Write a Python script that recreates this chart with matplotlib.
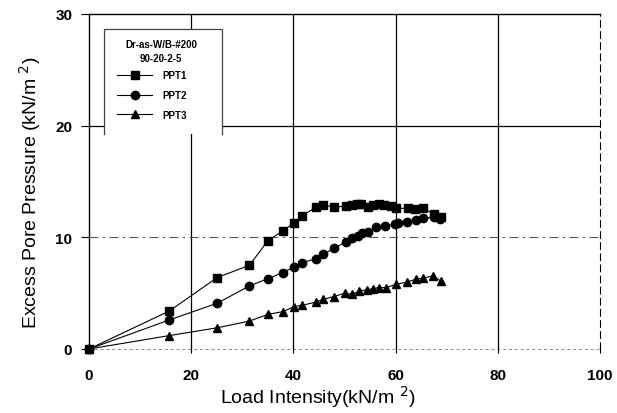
import matplotlib
matplotlib.use("Agg")
import matplotlib.pyplot as plt
from matplotlib.patches import Rectangle

plt.rcParams['font.family'] = ['Liberation Sans', 'DejaVu Sans']

ppt1_x = [0, 15.7, 25.1, 31.4, 35.0, 38.0, 40.1, 41.6, 44.4, 45.8, 48.0, 50.3, 51.4, 52.5, 53.2,
          54.6, 55.5, 56.7, 57.8, 59.0, 60.1, 62.4, 63.7, 65.4, 67.5, 68.8]
ppt1_y = [0, 3.4, 6.4, 7.5, 9.7, 10.6, 11.3, 11.9, 12.7, 12.9, 12.7, 12.8, 12.9, 13.0, 13.0,
          12.7, 12.9, 13.0, 12.9, 12.8, 12.6, 12.6, 12.5, 12.6, 12.1, 11.8]

ppt2_x = [0, 15.7, 25.1, 31.4, 35.0, 38.0, 40.1, 41.6, 44.4, 45.8, 48.0, 50.2, 51.5, 52.6, 53.5,
          54.6, 56.2, 58.0, 59.8, 60.5, 62.3, 63.9, 65.4, 67.5, 68.6]
ppt2_y = [0, 2.6, 4.1, 5.65, 6.3, 6.85, 7.35, 7.7, 8.1, 8.5, 9.0, 9.6, 9.95, 10.1, 10.35,
          10.5, 10.9, 11.0, 11.2, 11.3, 11.4, 11.55, 11.7, 11.8, 11.6]

ppt3_x = [0, 15.7, 25.1, 31.4, 35.0, 38.0, 40.1, 41.6, 44.4, 45.8, 48.0, 50.0, 51.5, 52.9, 54.4,
          55.5, 56.7, 58.2, 60.1, 62.3, 63.9, 65.4, 67.3, 68.8]
ppt3_y = [0, 1.2, 1.9, 2.5, 3.1, 3.35, 3.8, 3.9, 4.2, 4.45, 4.7, 5.0, 4.9, 5.2, 5.3,
          5.4, 5.5, 5.5, 5.8, 6.0, 6.25, 6.35, 6.55, 6.1]

x_ticks = [0, 20, 40, 60, 80, 100]
y_ticks = [0, 10, 20, 30]
legend_title = 'Dr-as-W/B-#200\n90-20-2-5'

fig = plt.figure(figsize=(6.17, 4.14), dpi=100)
ax = fig.add_axes([0.1443, 0.1546, 0.8282, 0.8092])

# grid lines
for xv in [20, 40, 60, 80]:
    ax.axvline(xv, color='black', lw=0.9, zorder=1)
ax.axhline(10, color='#555555', lw=0.8, ls=(0, (8, 4, 2, 4)), zorder=1)
ax.axhline(20, color='black', lw=0.9, zorder=1)

ax.plot(ppt1_x, ppt1_y, color='black', lw=0.8, marker='s', ms=6, label='PPT1', zorder=3, clip_on=False)
ax.plot(ppt2_x, ppt2_y, color='black', lw=0.8, marker='o', ms=6, label='PPT2', zorder=3, clip_on=False)
ax.plot(ppt3_x, ppt3_y, color='black', lw=0.8, marker='^', ms=6, label='PPT3', zorder=3, clip_on=False)

ax.set_xlim(0, 100)
ax.set_ylim(0, 30)
ax.set_xticks(x_ticks)
ax.set_yticks(y_ticks)
ax.tick_params(axis='y', labelsize=11, length=6, width=0.8, pad=6)
ax.tick_params(axis='x', labelsize=11, length=6, width=0.8, direction='inout', pad=11)
for lab in ax.get_xticklabels() + ax.get_yticklabels():
    lab.set_fontweight('bold')

ax.spines['left'].set_linewidth(1.0)
ax.spines['bottom'].set_color('#888888')
ax.spines['bottom'].set_linestyle((0, (2, 4)))
ax.spines['bottom'].set_linewidth(0.7)
ax.spines['top'].set_linewidth(1.0)
ax.spines['right'].set_linestyle((0, (6, 4)))
ax.spines['right'].set_linewidth(0.8)
for s in ax.spines.values():
    s.set_zorder(0.5)

ax.set_xlabel('Load Intensity(kN/m $^2$)', fontsize=14)
ax.xaxis.set_label_coords(0.448, -0.102)
ax.set_ylabel('Excess Pore Pressure (kN/m $^2$)', fontsize=14)
ax.yaxis.set_label_coords(-0.09, 0.469)

# legend box (white, open at bottom)
x0, x1, yb, yt = 0.029, 0.260, 0.642, 0.955
ax.add_patch(Rectangle((x0, yb), x1 - x0, yt - yb, transform=ax.transAxes,
                       facecolor='white', edgecolor='none', zorder=2))
ax.plot([x0, x0, x1, x1], [yb, yt, yt, yb], transform=ax.transAxes,
        color='#444444', lw=0.9, zorder=2.5)
ax.text(0.141, 0.891, legend_title, transform=ax.transAxes, ha='center', va='center',
        multialignment='center', fontsize=7, fontweight='bold', linespacing=1.5, zorder=4)

leg = ax.legend(loc='upper left', bbox_to_anchor=(0.055, 0.832), fontsize=7,
                frameon=False, handlelength=3.6, borderpad=0, labelspacing=1.0,
                handletextpad=1.1, borderaxespad=0)
leg.set_zorder(4)
for t in leg.get_texts():
    t.set_fontweight('bold')

fig.savefig('out.png', dpi=100)
